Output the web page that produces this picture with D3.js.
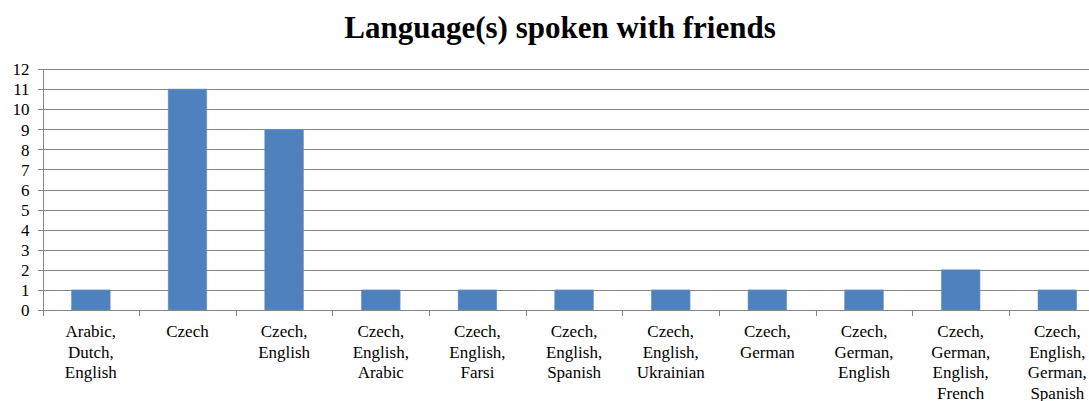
<!DOCTYPE html>
<meta charset="utf-8">
<style>
body { margin: 0; background: #fff; }
svg { display: block; font-family: "Liberation Serif", "Times New Roman", serif; }
.grid line { stroke: #868686; stroke-width: 1; shape-rendering: crispEdges; }
.axis path, .axis line { stroke: #868686; shape-rendering: crispEdges; }
.axis text { font-family: "Liberation Serif", "Times New Roman", serif; font-size: 17px; fill: #000; }
.title { font-size: 31px; font-weight: bold; }
</style>
<svg width="1089" height="401"></svg>
<script src="https://cdn.jsdelivr.net/npm/d3@7/dist/d3.min.js"></script>
<script>

var categories = [
  ["Arabic,", "Dutch,", "English"],
  ["Czech"],
  ["Czech,", "English"],
  ["Czech,", "English,", "Arabic"],
  ["Czech,", "English,", "Farsi"],
  ["Czech,", "English,", "Spanish"],
  ["Czech,", "English,", "Ukrainian"],
  ["Czech,", "German"],
  ["Czech,", "German,", "English"],
  ["Czech,", "German,", "English,", "French"],
  ["Czech,", "English,", "German,", "Spanish"]
];
var counts = [1, 11, 9, 1, 1, 1, 1, 1, 1, 2, 1];
var yTicks = [0, 1, 2, 3, 4, 5, 6, 7, 8, 9, 10, 11, 12];

var svg = d3.select("svg"),
    width = +svg.attr("width"),
    height = +svg.attr("height");

var plotLeft = 42.5, plotTop = 69, plotBottom = 310;
var bandW = 96.65;

var names = categories.map(function(d){ return d.join(" "); });

var x = d3.scaleBand()
    .domain(names)
    .range([plotLeft, plotLeft + bandW * names.length])
    .paddingInner(0.6).paddingOuter(0.3);

var y = d3.scaleLinear().domain([0, 12]).range([plotBottom, plotTop]);

svg.append("text")
    .attr("class", "title")
    .attr("x", 560).attr("y", 38)
    .attr("text-anchor", "middle")
    .text("Language(s) spoken with friends");

// gridlines
svg.append("g").attr("class", "grid")
  .selectAll("line").data(yTicks.slice(1)).enter()
  .append("line")
    .attr("x1", plotLeft).attr("x2", width)
    .attr("y1", function(d){ return Math.round(y(d)) + 0.5; })
    .attr("y2", function(d){ return Math.round(y(d)) + 0.5; });

// bars
svg.append("g").selectAll("rect").data(counts).enter()
  .append("rect")
    .attr("x", function(d, i){ return x(names[i]); })
    .attr("width", x.bandwidth())
    .attr("y", function(d){ return y(d); })
    .attr("height", function(d){ return y(0) - y(d); })
    .attr("fill", "#4F81BD")
    .attr("stroke", "#6f97c9")
    .attr("stroke-width", 0.6);

// y axis
var yAxis = d3.axisLeft(y).tickValues(yTicks).tickSize(5).tickPadding(8).tickFormat(d3.format("d"));
svg.append("g").attr("class", "axis")
    .attr("transform", "translate(" + plotLeft + ",0)")
    .call(yAxis)
    .attr("font-family", "Liberation Serif, serif")
    .attr("font-size", 17)
    .call(function(g){ g.selectAll("text").attr("dy", "0.34em"); });

// x axis: baseline and ticks between categories
var xg = svg.append("g").attr("class", "axis");
xg.append("line")
    .attr("x1", plotLeft - 5).attr("x2", width)
    .attr("y1", plotBottom + 0.5).attr("y2", plotBottom + 0.5);
xg.selectAll("line.tk").data(d3.range(names.length + 1)).enter()
  .append("line").attr("class", "tk")
    .attr("x1", function(i){ return Math.round(plotLeft + i * bandW) + 0.5; })
    .attr("x2", function(i){ return Math.round(plotLeft + i * bandW) + 0.5; })
    .attr("y1", plotBottom).attr("y2", plotBottom + 6);

var lab = xg.selectAll("text.lab").data(categories).enter()
  .append("text").attr("class", "lab")
    .attr("text-anchor", "middle")
    .attr("transform", function(d, i){
      return "translate(" + (x(names[i]) + x.bandwidth() / 2) + "," + 337 + ")";
    });
lab.selectAll("tspan").data(function(d){ return d; }).enter()
  .append("tspan")
    .attr("x", 0)
    .attr("y", function(d, i){ return i * 20.5; })
    .text(function(d){ return d; });

</script>
